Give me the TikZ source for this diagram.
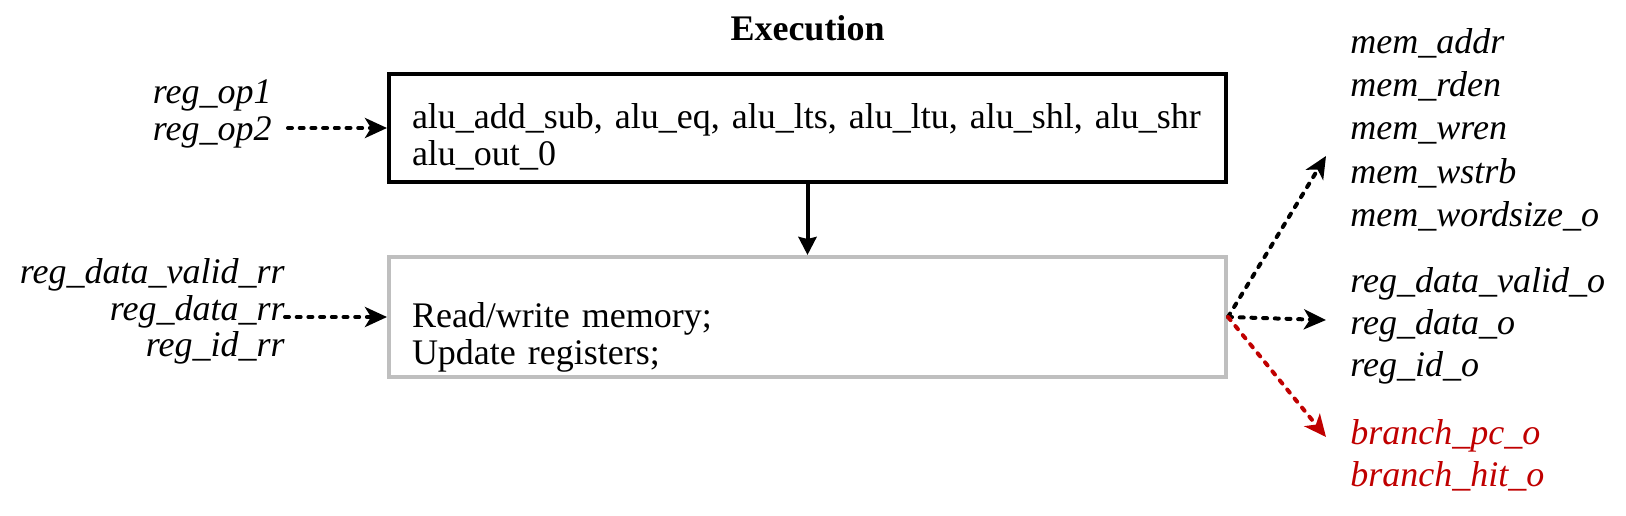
\documentclass[tikz,border=0pt]{standalone}
\usepackage{fontspec}
\setmainfont{Liberation Serif}
\usetikzlibrary{arrows.meta}
\definecolor{branchred}{RGB}{192,0,0}
\definecolor{boxgray}{RGB}{191,191,191}
\tikzset{
    stagebox/.style = {draw, line width = 2pt, text width = 395.5pt, inner xsep = 11.5pt, inner ysep = 0pt,
        align = left, font = \fontsize{18}{18.5}\selectfont, execute at begin node = {\rule{0pt}{#1}}},
    sig/.style = {line width = 2pt, dash pattern = on 2pt off 3.85pt, line cap = round,
        -{Stealth[length = 11pt, width = 10pt, inset = 3pt]}},
    signame/.style = {inner sep = 0pt, font = \fontsize{18}{21.5}\selectfont\itshape}
}
\begin{document}
\begin{tikzpicture}[x = 0.5pt, y = -0.5pt]
        \useasboundingbox (0,0) rectangle (1626,515);
        % stage boxes
        \node[font = \fontsize{18}{21.5}\selectfont\bfseries, anchor = base] (title) at (807.5,40) {Execution};
        \node[stagebox = 21.5pt, minimum width = 418.5pt, minimum height = 54pt] (alu) at (807.5,128)
            {alu\_add\_sub, alu\_eq, alu\_lts, alu\_ltu, alu\_shl, alu\_shr\\alu\_out\_0};
        \node[stagebox = 32.5pt, draw = boxgray, minimum width = 418.5pt, minimum height = 60pt] (wb) at (807.5,317)
            {Read/write memory;\\Update registers;};
        \draw[line width = 2pt, -{Stealth[length = 9pt, width = 9pt, inset = 1pt]}] (alu.south) -- (wb.north);
        % inputs
        \foreach \name [count = \i] in {reg\_op1, reg\_op2}
            \node[signame, inner xsep = 8pt, anchor = base east] (opin\i) at (288,66.6+36.7*\i) {\name};
        \foreach \name [count = \i] in {reg\_data\_valid\_rr, reg\_data\_rr, reg\_id\_rr}
            \node[signame, anchor = base east] (rrin\i) at (285,246.6+36.7*\i) {\name};
        \draw[sig] (opin2.east |- alu.west) -- (alu.west);
        \draw[sig] (rrin2.east |- wb.west) -- (wb.west);
        % outputs
        \foreach \name [count = \i] in {mem\_addr, mem\_rden, mem\_wren, mem\_wstrb, mem\_wordsize\_o}
            \node[signame, anchor = base west] (memout\i) at (1350,9.6+43.4*\i) {\name};
        \foreach \name [count = \i] in {reg\_data\_valid\_o, reg\_data\_o, reg\_id\_o}
            \node[signame, anchor = base west] (regout\i) at (1350,250+42*\i) {\name};
        \foreach \name [count = \i] in {branch\_pc\_o, branch\_hit\_o}
            \node[signame, text = branchred, anchor = base west] (brout\i) at (1350,402+42*\i) {\name};
        \coordinate (memtip) at (1326,156);
        \coordinate (regtip) at (1326,320);
        \coordinate (brtip) at (1326,437);
        \draw[sig] (wb.east) -- (memtip);
        \draw[sig] (wb.east) -- (regtip);
        \draw[sig, branchred] (wb.east) -- (brtip);
    \end{tikzpicture}
\end{document}
